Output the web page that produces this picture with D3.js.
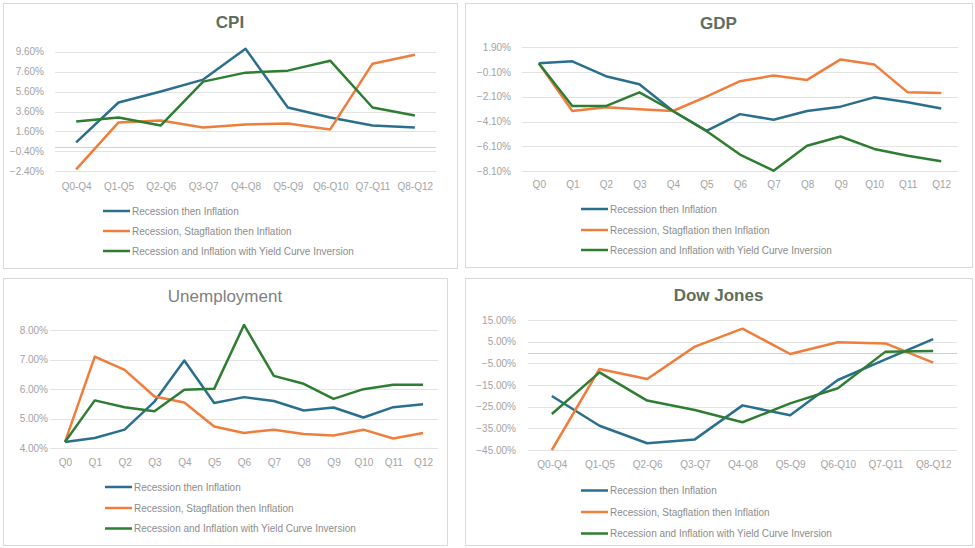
<!DOCTYPE html>
<html>
<head>
<meta charset="utf-8">
<script src="https://cdn.jsdelivr.net/npm/d3@7"></script>
<style>
  body { margin: 0; background: #fff; }
  svg { display: block; font-family: "Liberation Sans", Arial, sans-serif; }
</style>
</head>
<body>
<svg width="975" height="548"></svg>
<script>
// categories
var windowCats = ["Q0-Q4", "Q1-Q5", "Q2-Q6", "Q3-Q7", "Q4-Q8", "Q5-Q9", "Q6-Q10", "Q7-Q11", "Q8-Q12"];
var quarterCats = ["Q0", "Q1", "Q2", "Q3", "Q4", "Q5", "Q6", "Q7", "Q8", "Q9", "Q10", "Q11", "Q12"];
var seriesNames = ["Recession then Inflation", "Recession, Stagflation then Inflation", "Recession and Inflation with Yield Curve Inversion"];

// CPI (%)
var cpiRecession   = [0.5, 4.5, 5.6, 6.8, 9.9, 4.0, 3.0, 2.2, 2.0];
var cpiStagflation = [-2.2, 2.5, 2.7, 2.0, 2.3, 2.4, 1.8, 8.4, 9.3];
var cpiYieldCurve  = [2.6, 3.0, 2.2, 6.6, 7.5, 7.7, 8.7, 4.0, 3.2];
var cpiTicks = [-2.4, -0.4, 1.6, 3.6, 5.6, 7.6, 9.6];

// GDP (%)
var gdpRecession   = [0.6, 0.75, -0.45, -1.1, -3.25, -4.85, -3.5, -3.95, -3.25, -2.9, -2.15, -2.55, -3.05];
var gdpStagflation = [0.6, -3.25, -2.95, -3.1, -3.25, -2.1, -0.85, -0.4, -0.75, 0.9, 0.5, -1.75, -1.8];
var gdpYieldCurve  = [0.6, -2.85, -2.85, -1.75, -3.25, -4.85, -6.75, -8.05, -6.05, -5.3, -6.3, -6.85, -7.3];
var gdpTicks = [-8.1, -6.1, -4.1, -2.1, -0.1, 1.9];

// Unemployment (%)
var unRecession   = [4.21, 4.35, 4.63, 5.58, 6.97, 5.53, 5.73, 5.6, 5.28, 5.38, 5.04, 5.39, 5.49];
var unStagflation = [4.21, 7.1, 6.65, 5.75, 5.55, 4.74, 4.52, 4.63, 4.48, 4.43, 4.63, 4.33, 4.52];
var unYieldCurve  = [4.21, 5.62, 5.39, 5.25, 5.98, 6.01, 8.17, 6.45, 6.18, 5.67, 6.0, 6.15, 6.15];
var unTicks = [4, 5, 6, 7, 8];

// Dow Jones (%)
var dowRecession   = [-20.1, -33.8, -41.9, -40.1, -24.4, -29.0, -12.7, -3.2, 6.2];
var dowStagflation = [-45.0, -7.6, -12.2, 2.7, 11.0, -0.7, 4.7, 4.2, -4.7];
var dowYieldCurve  = [-28.4, -9.2, -22.2, -26.5, -32.2, -23.5, -16.5, 0.4, 0.7];
var dowTicks = [-45, -35, -25, -15, -5, 5, 15];

var colors = ["#2b6f8e", "#ef7d3c", "#2f7d32"];

var svg = d3.select("svg");

function panel(p) {
  var g = svg.append("g");

  g.append("rect")
      .attr("x", p.box[0] + 0.5).attr("y", p.box[1] + 0.5)
      .attr("width", p.box[2]).attr("height", p.box[3])
      .attr("fill", "#fff")
      .attr("stroke", "#d9d9d9");

  g.append("text")
      .attr("x", p.box[0] + p.box[2] / 2)
      .attr("y", p.titleY)
      .attr("text-anchor", "middle")
      .attr("font-size", 17)
      .attr("font-weight", p.bold ? "bold" : "normal")
      .attr("fill", p.bold ? "#5e6e5e" : "#7f7f7f")
      .text(p.title);

  var x = d3.scalePoint().domain(p.cats).range(p.xRange).padding(0.5);
  var y = d3.scaleLinear().domain(p.domain).range(p.yRange);

  // gridlines
  g.append("g").selectAll("line")
    .data(p.ticks)
    .join("line")
      .attr("x1", p.xRange[0]).attr("x2", p.xRange[1])
      .attr("y1", function(d) { return Math.round(y(d)) + 0.5; })
      .attr("y2", function(d) { return Math.round(y(d)) + 0.5; })
      .attr("stroke", "#e3e3e3");

  // zero line
  if (p.zero) {
    g.append("line")
        .attr("x1", p.xRange[0]).attr("x2", p.xRange[1])
        .attr("y1", Math.round(y(0)) + 0.5).attr("y2", Math.round(y(0)) + 0.5)
        .attr("stroke", "#d0d0d0");
  }

  // y axis labels
  var yAxis = d3.axisLeft(y).tickValues(p.ticks).tickSize(0).tickPadding(0)
      .tickFormat(function(d) { return d3.format(".2f")(d) + "%"; });
  var ya = g.append("g")
      .attr("transform", "translate(" + p.labelX + ",0)")
      .call(yAxis);
  ya.select(".domain").remove();
  ya.selectAll("text")
      .attr("fill", "#a3a3a3")
      .attr("font-size", 10)
      .attr("font-family", "Liberation Sans, Arial, sans-serif");

  // x axis labels
  var xAxis = d3.axisBottom(x).tickSize(0).tickPadding(0);
  var xa = g.append("g")
      .attr("transform", "translate(0," + p.xLabelY + ")")
      .call(xAxis);
  xa.select(".domain").remove();
  xa.selectAll("text")
      .attr("fill", "#a3a3a3")
      .attr("font-size", 10)
      .attr("dy", "0.32em")
      .attr("y", 0)
      .attr("font-family", "Liberation Sans, Arial, sans-serif");

  var line = d3.line()
      .x(function(d, i) { return x(p.cats[i]); })
      .y(function(d) { return y(d); });

  g.append("g").selectAll("path")
    .data(p.series)
    .join("path")
      .attr("fill", "none")
      .attr("stroke", function(d, i) { return colors[i]; })
      .attr("stroke-width", 2.5)
      .attr("stroke-linejoin", "round")
      .attr("d", line);

  // legend
  var lg = g.append("g").selectAll("g")
    .data(seriesNames)
    .join("g")
      .attr("transform", function(d, i) { return "translate(" + p.legendX + "," + p.legendY[i] + ")"; });
  lg.append("line")
      .attr("x1", 0).attr("x2", 27)
      .attr("stroke", function(d, i) { return colors[i]; })
      .attr("stroke-width", 2.5);
  lg.append("text")
      .attr("x", 29)
      .attr("dy", "0.35em")
      .attr("font-size", 10)
      .attr("fill", "#8c8c8c")
      .text(function(d) { return d; });
}

panel({
  title: "CPI", bold: true, box: [3, 3, 454, 265], titleY: 28,
  cats: windowCats, series: [cpiRecession, cpiStagflation, cpiYieldCurve],
  ticks: cpiTicks, domain: [-2.4, 9.6], yRange: [171.3, 51.7], zero: true,
  xRange: [55, 436], labelX: 44, xLabelY: 187,
  legendX: 103, legendY: [211, 231, 251]
});

panel({
  title: "GDP", bold: true, box: [465, 3, 507, 264], titleY: 29,
  cats: quarterCats, series: [gdpRecession, gdpStagflation, gdpYieldCurve],
  ticks: gdpTicks, domain: [-8.1, 1.9], yRange: [171.3, 47], zero: false,
  xRange: [522, 958], labelX: 511, xLabelY: 185,
  legendX: 581, legendY: [209, 230, 250]
});

panel({
  title: "Unemployment", bold: false, box: [3, 278, 444, 267], titleY: 302,
  cats: quarterCats, series: [unRecession, unStagflation, unYieldCurve],
  ticks: unTicks, domain: [4, 8], yRange: [448.3, 330], zero: false,
  xRange: [50, 438], labelX: 48, xLabelY: 463,
  legendX: 105, legendY: [487, 508, 528.5]
});

panel({
  title: "Dow Jones", bold: true, box: [465, 278, 507, 267], titleY: 301,
  cats: windowCats, series: [dowRecession, dowStagflation, dowYieldCurve],
  ticks: dowTicks, domain: [-45, 15], yRange: [450, 320], zero: true,
  xRange: [528, 957], labelX: 516, xLabelY: 465,
  legendX: 581, legendY: [490.5, 512, 533.5]
});
</script>
</body>
</html>
